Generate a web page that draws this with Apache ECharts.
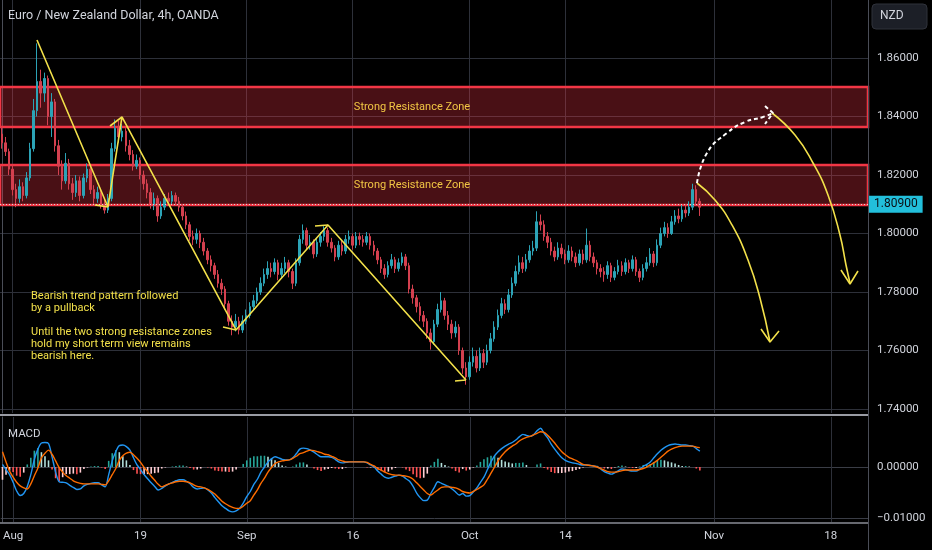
<!DOCTYPE html>
<html><head><meta charset="utf-8">
<script src="https://cdn.jsdelivr.net/npm/echarts@6/dist/echarts.min.js"></script>
<style>html,body{margin:0;padding:0;background:#000;}#c{width:932px;height:550px;}</style>
</head><body><div id="c"></div>
<script>
// ---------- data ----------
const firstOpen = 1.8340;
const closes = [1.8310,1.8280,1.8220,1.8150,1.8120,1.8160,1.8130,1.8190,1.8290,1.8420,
1.8520,1.8480,1.8530,1.8400,1.8450,1.8300,1.8230,1.8180,1.8240,1.8170,
1.8140,1.8180,1.8130,1.8190,1.8220,1.8150,1.8120,1.8140,1.8100,1.8080,
1.8120,1.8290,1.8360,1.8330,1.8350,1.8300,1.8270,1.8230,1.8250,1.8200,
1.8170,1.8140,1.8100,1.8120,1.8060,1.8090,1.8120,1.8110,1.8130,1.8110,
1.8090,1.8060,1.8030,1.7990,1.7980,1.8000,1.7970,1.7940,1.7910,1.7890,
1.7860,1.7830,1.7810,1.7760,1.7700,1.7680,1.7700,1.7670,1.7700,1.7720,
1.7750,1.7770,1.7800,1.7830,1.7860,1.7880,1.7870,1.7900,1.7860,1.7880,
1.7900,1.7870,1.7830,1.7900,1.7980,1.8010,1.7960,1.7970,1.7930,1.7970,
1.7990,1.8010,1.7970,1.7950,1.7920,1.7960,1.7940,1.7980,1.7990,1.7960,
1.7990,1.7980,1.7970,1.7990,1.7960,1.7940,1.7910,1.7880,1.7860,1.7890,
1.7910,1.7880,1.7900,1.7920,1.7890,1.7810,1.7780,1.7750,1.7720,1.7700,
1.7660,1.7630,1.7690,1.7740,1.7770,1.7720,1.7690,1.7660,1.7680,1.7600,
1.7540,1.7510,1.7560,1.7580,1.7540,1.7590,1.7560,1.7600,1.7640,1.7680,
1.7720,1.7760,1.7740,1.7790,1.7830,1.7870,1.7900,1.7880,1.7910,1.7940,
1.7950,1.8040,1.8030,1.7990,1.7970,1.7940,1.7920,1.7950,1.7930,1.7910,
1.7940,1.7920,1.7900,1.7930,1.7910,1.7960,1.7920,1.7900,1.7880,1.7870,
1.7860,1.7890,1.7850,1.7870,1.7890,1.7870,1.7900,1.7880,1.7910,1.7870,
1.7850,1.7880,1.7900,1.7930,1.7900,1.7960,1.8000,1.8020,1.8000,1.8040,
1.8060,1.8050,1.8080,1.8070,1.8090,1.8150,1.8110,1.8090];
const highs = [1.8365,1.8330,1.8290,1.8235,1.8170,1.8185,1.8175,1.8210,1.8310,1.8460,
1.8650,1.8560,1.8550,1.8540,1.8480,1.8460,1.8320,1.8250,1.8275,1.8255,
1.8190,1.8200,1.8195,1.8205,1.8240,1.8230,1.8165,1.8160,1.8150,1.8115,
1.8135,1.8310,1.8390,1.8385,1.8375,1.8360,1.8320,1.8285,1.8270,1.8260,
1.8215,1.8185,1.8155,1.8140,1.8130,1.8110,1.8135,1.8140,1.8145,1.8140,
1.8125,1.8100,1.8075,1.8040,1.8010,1.8017,1.8010,1.7985,1.7950,1.7925,
1.7900,1.7875,1.7845,1.7820,1.7770,1.7720,1.7725,1.7715,1.7720,1.7740,
1.7765,1.7790,1.7815,1.7850,1.7880,1.7905,1.7900,1.7915,1.7910,1.7900,
1.7920,1.7910,1.7880,1.7915,1.7995,1.8031,1.8020,1.7995,1.7980,1.7985,
1.8005,1.8025,1.8020,1.7985,1.7960,1.7975,1.7975,1.7995,1.8010,1.8000,
1.8005,1.8003,1.7995,1.8005,1.8000,1.7975,1.7950,1.7920,1.7895,1.7905,
1.7930,1.7920,1.7915,1.7935,1.7930,1.7900,1.7825,1.7790,1.7765,1.7735,
1.7710,1.7675,1.7705,1.7760,1.7800,1.7780,1.7735,1.7705,1.7700,1.7690,
1.7610,1.7560,1.7580,1.7610,1.7600,1.7610,1.7605,1.7620,1.7660,1.7700,
1.7740,1.7780,1.7775,1.7810,1.7850,1.7890,1.7925,1.7920,1.7930,1.7960,
1.7975,1.8076,1.8065,1.8045,1.8005,1.7985,1.7955,1.7970,1.7965,1.7945,
1.7960,1.7955,1.7935,1.7945,1.7945,1.8017,1.7975,1.7935,1.7910,1.7895,
1.7885,1.7905,1.7900,1.7885,1.7910,1.7905,1.7915,1.7910,1.7925,1.7920,
1.7880,1.7895,1.7920,1.7950,1.7940,1.7980,1.8020,1.8040,1.8035,1.8060,
1.8080,1.8085,1.8100,1.8100,1.8110,1.8170,1.8165,1.8120];
const lows = [1.8290,1.8265,1.8200,1.8130,1.8090,1.8105,1.8110,1.8120,1.8180,1.8280,
1.8400,1.8430,1.8450,1.8370,1.8330,1.8280,1.8200,1.8150,1.8170,1.8150,
1.8115,1.8125,1.8110,1.8120,1.8175,1.8135,1.8100,1.8105,1.8085,1.8068,
1.8070,1.8110,1.8280,1.8310,1.8315,1.8280,1.8250,1.8215,1.8220,1.8185,
1.8150,1.8120,1.8085,1.8080,1.8040,1.8050,1.8080,1.8095,1.8100,1.8095,
1.8075,1.8045,1.8015,1.7975,1.7960,1.7965,1.7950,1.7925,1.7895,1.7870,
1.7845,1.7815,1.7790,1.7740,1.7685,1.7652,1.7665,1.7655,1.7660,1.7690,
1.7710,1.7735,1.7760,1.7790,1.7820,1.7845,1.7850,1.7860,1.7840,1.7845,
1.7865,1.7850,1.7810,1.7820,1.7890,1.7965,1.7945,1.7945,1.7915,1.7920,
1.7955,1.7975,1.7955,1.7935,1.7905,1.7910,1.7925,1.7930,1.7965,1.7945,
1.7950,1.7960,1.7955,1.7960,1.7945,1.7925,1.7895,1.7865,1.7845,1.7850,
1.7880,1.7865,1.7870,1.7890,1.7875,1.7795,1.7760,1.7730,1.7700,1.7680,
1.7640,1.7603,1.7620,1.7680,1.7730,1.7705,1.7670,1.7640,1.7645,1.7585,
1.7520,1.7483,1.7500,1.7545,1.7525,1.7530,1.7540,1.7550,1.7590,1.7630,
1.7670,1.7710,1.7725,1.7730,1.7780,1.7820,1.7860,1.7865,1.7870,1.7900,
1.7925,1.7940,1.8010,1.7975,1.7950,1.7925,1.7905,1.7910,1.7915,1.7895,
1.7900,1.7905,1.7885,1.7890,1.7895,1.7900,1.7905,1.7885,1.7860,1.7850,
1.7835,1.7845,1.7834,1.7840,1.7860,1.7855,1.7860,1.7865,1.7870,1.7855,
1.7834,1.7840,1.7870,1.7890,1.7885,1.7890,1.7950,1.7990,1.7985,1.7995,
1.8030,1.8035,1.8040,1.8055,1.8060,1.8080,1.8095,1.8060];
const macdLine = [.0005,-.0005,-.0015,-.0030,-.0047,-.0056,-.0052,-.0038,-.0015,.0015,
.0035,.0047,.0048,.0046,.0020,-.0010,-.0029,-.0030,-.0031,-.0036,
-.0040,-.0044,-.0043,-.0037,-.0034,-.0032,-.0031,-.0031,-.0035,-.0039,
-.0015,.0012,.0030,.0042,.0043,.0040,.0033,.0018,.0004,-.0005,
-.0015,-.0023,-.0031,-.0038,-.0045,-.0042,-.0037,-.0033,-.0030,-.0027,
-.0025,-.0025,-.0028,-.0033,-.0040,-.0043,-.0042,-.0041,-.0045,-.0051,
-.0060,-.0068,-.0076,-.0081,-.0086,-.0088,-.0086,-.0081,-.0071,-.0058,
-.0048,-.0034,-.0024,-.0010,.0000,.0010,.0016,.0020,.0018,.0015,
.0014,.0014,.0018,.0026,.0035,.0037,.0036,.0033,.0029,.0024,
.0020,.0020,.0020,.0019,.0015,.0010,.0008,.0009,.0010,.0010,
.0010,.0010,.0010,.0008,.0004,.0000,-.0008,-.0014,-.0020,-.0022,
-.0020,-.0018,-.0016,-.0018,-.0023,-.0028,-.0038,-.0051,-.0060,-.0066,
-.0065,-.0052,-.0040,-.0029,-.0032,-.0035,-.0038,-.0043,-.0049,-.0055,
-.0052,-.0057,-.0056,-.0049,-.0041,-.0030,-.0020,-.0005,.0010,.0022,
.0030,.0036,.0041,.0045,.0048,.0053,.0059,.0064,.0062,.0060,
.0063,.0071,.0076,.0066,.0057,.0045,.0035,.0026,.0018,.0013,
.0010,.0008,.0007,.0005,.0004,.0004,.0003,.0002,.0001,-.0004,
-.0009,-.0012,-.0014,-.0011,-.0007,-.0004,-.0005,-.0007,-.0008,-.0008,
-.0004,.0001,.0005,.0010,.0018,.0026,.0033,.0038,.0042,.0044,
.0045,.0044,.0043,.0043,.0042,.0041,.0036,.0031];
const signalLine = [.0030,.0010,-.0008,-.0020,-.0030,-.0037,-.0041,-.0043,-.0033,-.0017,
-.0002,.0018,.0027,.0033,.0025,.0012,-.0001,-.0010,-.0017,-.0022,
-.0027,-.0030,-.0032,-.0033,-.0033,-.0033,-.0033,-.0033,-.0034,-.0035,
-.0027,-.0015,-.0003,.0013,.0022,.0027,.0029,.0024,.0017,.0009,
-.0001,-.0009,-.0018,-.0026,-.0034,-.0039,-.0036,-.0033,-.0031,-.0029,
-.0028,-.0028,-.0029,-.0031,-.0035,-.0038,-.0039,-.0041,-.0044,-.0048,
-.0053,-.0060,-.0067,-.0072,-.0076,-.0079,-.0081,-.0081,-.0077,-.0071,
-.0066,-.0055,-.0045,-.0032,-.0022,-.0010,-.0001,.0007,.0010,.0012,
.0013,.0014,.0017,.0021,.0026,.0028,.0031,.0033,.0032,.0030,
.0028,.0025,.0024,.0021,.0018,.0014,.0012,.0010,.0010,.0010,
.0010,.0010,.0010,.0009,.0005,.0002,-.0003,-.0006,-.0010,-.0013,
-.0015,-.0016,-.0016,-.0017,-.0018,-.0020,-.0024,-.0031,-.0038,-.0045,
-.0052,-.0055,-.0050,-.0045,-.0040,-.0039,-.0039,-.0040,-.0041,-.0044,
-.0048,-.0050,-.0051,-.0048,-.0044,-.0040,-.0035,-.0024,-.0012,.0000,
.0012,.0022,.0030,.0036,.0041,.0045,.0051,.0055,.0058,.0060,
.0063,.0066,.0069,.0068,.0062,.0055,.0047,.0038,.0030,.0024,
.0019,.0016,.0013,.0009,.0005,.0004,.0003,.0002,.0000,-.0003,
-.0006,-.0009,-.0010,-.0010,-.0009,-.0007,-.0006,-.0006,-.0006,-.0006,
-.0005,-.0003,.0000,.0004,.0008,.0013,.0019,.0025,.0031,.0035,
.0038,.0040,.0041,.0041,.0041,.0041,.0039,.0038];
const tickDays = ['2024-08-01','2024-08-19','2024-09-02','2024-09-16','2024-10-01','2024-10-14','2024-11-01','2024-11-18'];
const tickLabels = ['Aug','19','Sep','16','Oct','14','Nov','18'];
const priceTicks = [1.74,1.76,1.78,1.80,1.82,1.84,1.86];
const macdTicks = [-0.01,0];
const zoneUpper = [1.83641,1.85009];
const zoneLower = [1.80974,1.82342];
const lastPrice = 1.80900;
// drawings, in [bar position, price]
const zigzag = [[9.94,1.86615],[29.98,1.80906],[33.93,1.83983],[66.11,1.76701],[92.08,1.80291],[131.03,1.74991]];
const hooks = [
  [[26.31,1.80974],[29.98,1.80906]],
  [[30.55,1.83675],[33.93,1.83983]],
  [[62.44,1.76803],[66.11,1.76701]],
  [[88.41,1.80256],[92.08,1.80291]],
  [[127.93,1.74957],[131.03,1.74991]]
];
const curveNear = [[196.23,1.81726],[201.31,1.81145],[206.11,1.80291],[210.63,1.79094],[214.01,1.77795],[216.84,1.76291]];
const headNear = [[214.30,1.76735],[216.84,1.76291],[219.38,1.76667]];
const curveFar = [[217.40,1.84120],[223.89,1.83368],[228.98,1.82410],[233.21,1.81316],[236.59,1.79949],[238.29,1.78923],[239.42,1.78308]];
const headFar = [[236.87,1.78752],[239.42,1.78274],[241.68,1.78718]];
const curveUp = [[196.23,1.81726],[199.05,1.82752],[204.70,1.83436],[209.78,1.83812],[214.86,1.83983],[217.68,1.84120]];
const headUp = [[215.43,1.84359],[217.68,1.84120],[215.43,1.83744]];

// ---------- build ----------
const slotsPerDay = 3, slotCount = 245;
const categories = [];
const day = new Date(Date.UTC(2024, 6, 31));
while (categories.length < slotCount) {
  const wd = day.getUTCDay();
  if (wd !== 0 && wd !== 6) {
    const s = day.toISOString().slice(0, 10);
    for (let k = 0; k < slotsPerDay; k++) categories.push(s + ' ' + (k * 8) + 'h');
  }
  day.setUTCDate(day.getUTCDate() + 1);
}
categories.length = slotCount;
const tickIdx = tickDays.map(d => categories.indexOf(d + ' 0h'));
const ohlc = closes.map((c, i) => [i === 0 ? firstOpen : closes[i - 1], c, lows[i], highs[i]]);
const hist = macdLine.map((m, i) => +(m - signalLine[i]).toFixed(5));
const histData = hist.map((h, i) => {
  const p = i ? hist[i - 1] : h;
  let col;
  if (h >= 0) col = h >= p ? '#26a69a' : '#b2dfdb';
  else col = h < p ? '#ff5252' : '#ffcdd2';
  return { value: h, itemStyle: { color: col } };
});

const gridColor = '#2d3039';
const textColor = '#d1d4dc';
const yellow = '#f2e04a';
const font = 'Roboto, "Noto Sans", sans-serif';

function drawLine(data, opts) {
  return Object.assign({
    type: 'line', xAxisIndex: 2, yAxisIndex: 0, data: data, silent: true,
    showSymbol: false, symbol: 'none', animation: false, z: 5,
    lineStyle: { color: yellow, width: 1.6 }
  }, opts || {});
}

const series = [
  {
    type: 'candlestick', xAxisIndex: 0, yAxisIndex: 0, data: ohlc, barWidth: 2,
    itemStyle: { color: '#2ca3b6', color0: '#d4404f', borderColor: '#2ca3b6', borderColor0: '#d4404f', borderWidth: 1 },
    markArea: {
      silent: true,
      itemStyle: { color: 'rgba(242,54,69,0.30)', borderColor: '#f23645', borderWidth: 2.5 },
      label: { show: true, position: 'inside', color: '#f2c744', fontSize: 11, fontFamily: font, offset: [-22, 0] },
      data: [
        [{ yAxis: zoneUpper[1], name: 'Strong Resistance Zone' }, { yAxis: zoneUpper[0] }],
        [{ yAxis: zoneLower[1], name: 'Strong Resistance Zone' }, { yAxis: zoneLower[0] }]
      ]
    },
    markLine: {
      silent: true, symbol: 'none', animation: false,
      lineStyle: { type: [1, 2], color: '#d8d8d8', width: 1 },
      label: { show: true, position: 'end', formatter: lastPrice.toFixed(5), backgroundColor: '#22bfdb',
        color: '#0b0e14', fontSize: 12, fontFamily: font, padding: [3, 5, 2, 5], distance: 1 },
      data: [{ yAxis: lastPrice }]
    }
  },
  { type: 'bar', xAxisIndex: 1, yAxisIndex: 1, data: histData, barWidth: 1.6, silent: true },
  { type: 'line', xAxisIndex: 1, yAxisIndex: 1, data: macdLine, showSymbol: false, symbol: 'none', smooth: 0.3,
    lineStyle: { color: '#2196f3', width: 1.4 }, silent: true },
  { type: 'line', xAxisIndex: 1, yAxisIndex: 1, data: signalLine, showSymbol: false, symbol: 'none', smooth: 0.3,
    lineStyle: { color: '#ff6d00', width: 1.4 }, silent: true },
  drawLine(zigzag),
  ...hooks.map(h => drawLine(h)),
  drawLine(curveNear, { smooth: true }),
  drawLine(headNear),
  drawLine(curveFar, { smooth: true }),
  drawLine(headFar),
  drawLine(curveUp, { smooth: true, lineStyle: { color: '#ffffff', width: 2, type: [4, 3] } }),
  drawLine(headUp, { lineStyle: { color: '#ffffff', width: 2, type: [4, 3] } })
];

const option = {
  backgroundColor: '#000000',
  animation: false,
  textStyle: { fontFamily: font },
  grid: [
    { left: 0, top: 0, width: 868, height: 413 },
    { left: 0, top: 417, width: 868, height: 105 }
  ],
  xAxis: [
    { type: 'category', gridIndex: 0, data: categories, show: false },
    { type: 'category', gridIndex: 1, data: categories, show: false },
    { type: 'value', gridIndex: 0, min: -0.5, max: slotCount - 0.5,
      axisLine: { show: false }, axisTick: { show: false, customValues: tickIdx },
      axisLabel: { show: false, customValues: tickIdx },
      splitLine: { show: true, lineStyle: { color: gridColor, width: 1 } } },
    { type: 'value', gridIndex: 1, min: -0.5, max: slotCount - 0.5, position: 'bottom',
      axisLine: { show: false }, axisTick: { show: false, customValues: tickIdx },
      axisLabel: { customValues: tickIdx, color: textColor, fontSize: 11.5, margin: 8, fontFamily: font,
        formatter: v => tickLabels[tickIdx.indexOf(Math.round(v))] || '' },
      splitLine: { show: true, lineStyle: { color: gridColor, width: 1 } } }
  ],
  yAxis: [
    { type: 'value', gridIndex: 0, position: 'right', min: 1.73863, max: 1.87983,
      axisLine: { show: true, lineStyle: { color: '#4a4d57' } },
      axisTick: { show: false, customValues: priceTicks },
      axisLabel: { customValues: priceTicks, formatter: v => v.toFixed(5), color: textColor, fontSize: 11.5, margin: 9, fontFamily: font },
      splitLine: { show: true, lineStyle: { color: gridColor, width: 1 } } },
    { type: 'value', gridIndex: 1, position: 'right', min: -0.01078, max: 0.0098,
      axisLine: { show: true, lineStyle: { color: '#4a4d57' } },
      axisTick: { show: false, customValues: macdTicks },
      axisLabel: { customValues: macdTicks, color: textColor, fontSize: 11.5, margin: 9, fontFamily: font,
        formatter: v => (v < 0 ? '\u2212' + (-v).toFixed(5) : Math.abs(v).toFixed(5)) },
      splitLine: { show: true, lineStyle: { color: '#3a3d46', width: 1 } } }
  ],
  series: series,
  graphic: [
    { type: 'line', shape: { x1: 0, y1: 415, x2: 868, y2: 415 }, style: { stroke: '#9a9ca4', lineWidth: 2 }, silent: true, z: 10 },
    { type: 'line', shape: { x1: 0, y1: 523, x2: 868, y2: 523 }, style: { stroke: '#8a8d96', lineWidth: 1.5 }, silent: true, z: 10 },
    { type: 'line', shape: { x1: 868.5, y1: 0, x2: 868.5, y2: 550 }, style: { stroke: '#4a4d57', lineWidth: 1 }, silent: true, z: 10 },
    { type: 'text', left: 8, top: 9, style: { text: 'Euro / New Zealand Dollar, 4h, OANDA', fill: textColor, font: '12.5px ' + font }, silent: true, z: 20 },
    { type: 'text', left: 8, top: 428, style: { text: 'MACD', fill: textColor, font: '11.5px ' + font }, silent: true, z: 20 },
    { type: 'text', left: 31, top: 290, style: {
        text: 'Bearish trend pattern followed\nby a pullback\n\nUntil the two strong resistance zones\nhold my short term view remains\nbearish here.',
        fill: yellow, font: '11px ' + font, lineHeight: 12 }, silent: true, z: 20 },
    { type: 'rect', shape: { x: 872, y: 4, width: 55, height: 25, r: 4 }, style: { fill: '#1c1f27', stroke: '#2f323b', lineWidth: 1 }, silent: true, z: 20 },
    { type: 'text', left: 880, top: 10, style: { text: 'NZD', fill: textColor, font: '12px ' + font }, silent: true, z: 21 }
  ]
};

const chart = echarts.init(document.getElementById('c'));
chart.setOption(option);
</script>
</body></html>
